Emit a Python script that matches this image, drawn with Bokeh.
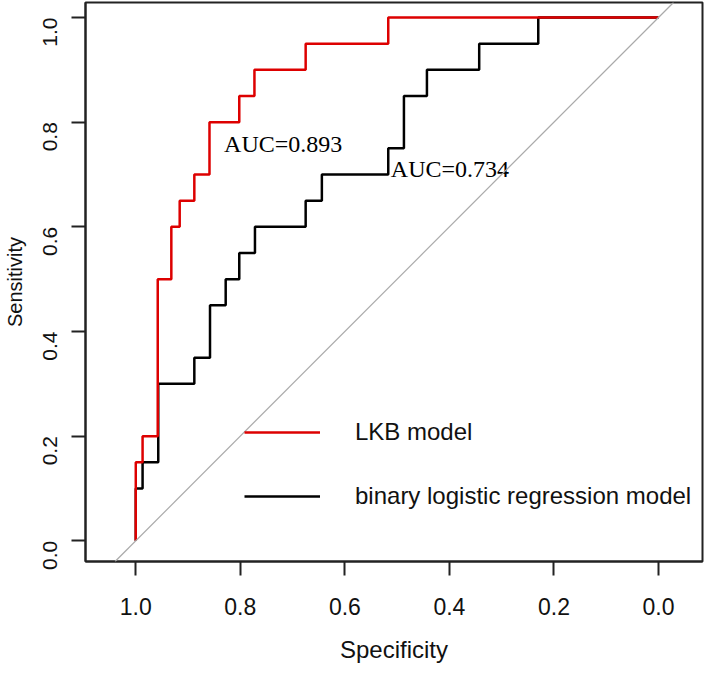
import math
from bokeh.plotting import figure
from bokeh.models import Range1d, FixedTicker, PrintfTickFormatter, Legend, LegendItem, Slope
from bokeh.core.properties import value
from bokeh.embed import file_html
from bokeh.resources import INLINE

# ROC curve vertices (specificity, sensitivity)
lkb_spec = [1.0, 1.0, 0.987, 0.987, 0.958, 0.958, 0.932, 0.932, 0.916, 0.916,
            0.888, 0.888, 0.859, 0.859, 0.802, 0.802, 0.773, 0.773, 0.675, 0.675,
            0.517, 0.517, 0.0]
lkb_sens = [0.0, 0.15, 0.15, 0.20, 0.20, 0.50, 0.50, 0.60, 0.60, 0.65,
            0.65, 0.70, 0.70, 0.80, 0.80, 0.85, 0.85, 0.90, 0.90, 0.95,
            0.95, 1.0, 1.0]

blr_spec = [1.0, 1.0, 0.987, 0.987, 0.957, 0.957, 0.888, 0.888, 0.858, 0.858,
            0.828, 0.828, 0.802, 0.802, 0.772, 0.772, 0.675, 0.675, 0.644, 0.644,
            0.517, 0.517, 0.487, 0.487, 0.443, 0.443, 0.343, 0.343, 0.230, 0.230,
            0.0]
blr_sens = [0.0, 0.10, 0.10, 0.15, 0.15, 0.30, 0.30, 0.35, 0.35, 0.45,
            0.45, 0.50, 0.50, 0.55, 0.55, 0.60, 0.60, 0.65, 0.65, 0.70,
            0.70, 0.75, 0.75, 0.85, 0.85, 0.90, 0.90, 0.95, 0.95, 1.0,
            1.0]

series_names = ["LKB model", "binary logistic regression model"]
auc_labels = ["AUC=0.893", "AUC=0.734"]
tick_values = [0.0, 0.2, 0.4, 0.6, 0.8, 1.0]

RED = "#DD0000"
SANS = "Liberation Sans"

p = figure(width=704, height=667, output_backend="svg", toolbar_location=None,
           x_range=Range1d(1.0962, -0.0842), y_range=Range1d(-0.0396, 1.0287),
           min_border_left=85, min_border_right=2, min_border_top=2,
           min_border_bottom=106,
           x_axis_label="Specificity", y_axis_label="Sensitivity")

p.background_fill_color = "white"
p.border_fill_color = "white"
p.outline_line_color = "#222222"
p.outline_line_width = 2
p.xgrid.visible = False
p.ygrid.visible = False

for ax in (p.xaxis[0], p.yaxis[0]):
    ax.ticker = FixedTicker(ticks=tick_values)
    ax.formatter = PrintfTickFormatter(format="%.1f")
    ax.axis_line_color = "#222222"
    ax.axis_line_width = 2
    ax.major_tick_out = 14
    ax.major_tick_in = 0
    ax.major_tick_line_width = 2
    ax.major_tick_line_color = "#222222"
    ax.minor_tick_line_color = None
    ax.major_label_text_font = SANS
    ax.axis_label_text_font = SANS
    ax.axis_label_text_font_style = "normal"
    ax.major_label_text_color = "#111111"
    ax.axis_label_text_color = "#111111"

p.xaxis.major_label_text_font_size = "23px"
p.xaxis.axis_label_text_font_size = "24px"
p.xaxis.major_label_standoff = 22
p.xaxis.axis_label_standoff = 18

p.yaxis.major_label_text_font_size = "21px"
p.yaxis.axis_label_text_font_size = "20px"
p.yaxis.major_label_orientation = math.pi / 2
p.yaxis.major_label_standoff = 21
p.yaxis.axis_label_standoff = 8

diag = Slope(gradient=-1, y_intercept=1, line_color="#AAAAAA", line_width=1.2)
p.add_layout(diag)

r_blr = p.line(blr_spec, blr_sens, line_color="black", line_width=2.5)
r_lkb = p.line(lkb_spec, lkb_sens, line_color=RED, line_width=2.5)

p.text(x=[0.831, 0.512], y=[0.758, 0.7105], text=auc_labels,
       text_font=value("Liberation Serif"), text_font_size="24px",
       text_align="left", text_baseline="middle", text_color="black")

legend = Legend(items=[LegendItem(label=series_names[0], renderers=[r_lkb]),
                       LegendItem(label=series_names[1], renderers=[r_blr])],
                location=(159, 45), orientation="vertical",
                glyph_width=76, glyph_height=40, label_height=40,
                spacing=24, padding=0, margin=0, label_standoff=35,
                border_line_color=None, background_fill_alpha=0)
legend.label_text_font = SANS
legend.label_text_font_size = "24px"
legend.label_text_color = "#111111"
p.add_layout(legend)

open("out.html", "w").write(file_html(p, INLINE))
